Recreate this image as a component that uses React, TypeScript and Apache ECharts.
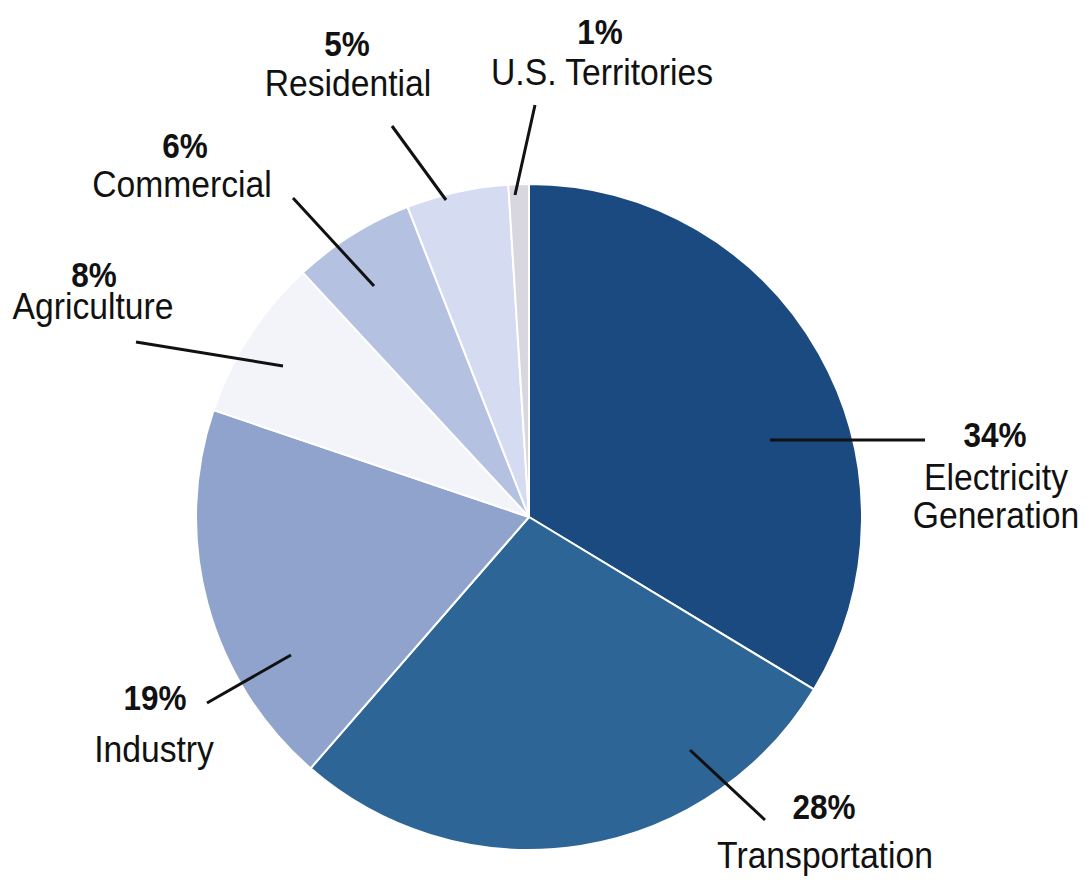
import React, { useEffect, useRef } from "react";
import * as echarts from "echarts";

const categories = [
  "Electricity Generation",
  "Transportation",
  "Industry",
  "Agriculture",
  "Commercial",
  "Residential",
  "U.S. Territories",
];
const nameLines = [
  ["Electricity", "Generation"],
  ["Transportation"],
  ["Industry"],
  ["Agriculture"],
  ["Commercial"],
  ["Residential"],
  ["U.S. Territories"],
];
const values = [34, 28, 19, 8, 6, 5, 1];
const colors = ["#1a4a80", "#2c6596", "#8fa3cc", "#f3f4f9", "#b4c1e1", "#d5dcf2", "#d8d6df"];

// annotation layout: [pctX, pctY, nameX, nameY(first line)]
const labelPos = [
  [995, 435, 996, 477],
  [824, 807, 825, 855],
  [155, 698, 154, 749],
  [94, 275, 93, 306],
  [185, 146, 182, 184],
  [347, 44, 348, 83],
  [600, 32, 602, 72],
];
const leaderLines = [
  [770, 440, 925, 440],
  [690, 750, 765, 820],
  [291, 655, 207, 703],
  [283, 366, 136, 342],
  [374, 286, 293, 198],
  [446, 200, 392, 126],
  [515, 195, 535, 105],
];

const FONT = "'Liberation Sans', Arial, sans-serif";

export default function App() {
  const ref = useRef<HTMLDivElement>(null);
  useEffect(() => {
    if (!ref.current) return;
    const chart = echarts.init(ref.current, undefined, { renderer: "svg" });
    const graphic: any[] = [];
    categories.forEach((c, i) => {
      const [px, py, nx, ny] = labelPos[i];
      const [x1, y1, x2, y2] = leaderLines[i];
      graphic.push({
        type: "line",
        shape: { x1, y1, x2, y2 },
        style: { stroke: "#111", lineWidth: 3 },
        z: 100,
      });
      graphic.push({
        type: "text",
        x: px,
        y: py,
        scaleX: 0.9,
        style: {
          text: values[i] + "%",
          font: `bold 35px ${FONT}`,
          fill: "#111",
          align: "center",
          verticalAlign: "middle",
        },
        z: 100,
      });
      nameLines[i].forEach((t, k) => {
        graphic.push({
          type: "text",
          x: nx,
          y: ny + k * 38,
          scaleX: 0.91,
          style: {
            text: t,
            font: `37px ${FONT}`,
            fill: "#111",
            align: "center",
            verticalAlign: "middle",
          },
          z: 100,
        });
      });
    });
    chart.setOption({
      animation: false,
      backgroundColor: "#ffffff",
      graphic,
      series: [
        {
          type: "pie",
          center: [529, 517],
          radius: 333,
          startAngle: 90,
          clockwise: true,
          label: { show: false },
          labelLine: { show: false },
          itemStyle: { borderColor: "#ffffff", borderWidth: 2 },
          data: categories.map((c, i) => ({
            name: c,
            value: values[i],
            itemStyle: { color: colors[i] },
          })),
        },
      ],
    });
    return () => chart.dispose();
  }, []);
  return (
    <div
      ref={ref}
      style={{ position: "fixed", left: 0, top: 0, width: 1089, height: 882 }}
    />
  );
}
